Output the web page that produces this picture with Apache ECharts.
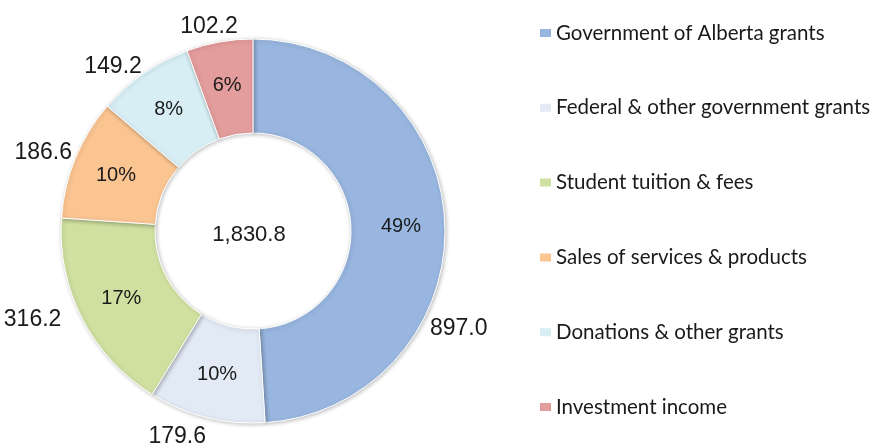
<!DOCTYPE html>
<html>
<head>
<meta charset="utf-8">
<style>
  html, body { margin: 0; padding: 0; background: #fff; }
  #chart { width: 872px; height: 447px; }
</style>
<script src="https://cdn.jsdelivr.net/npm/echarts@6/dist/echarts.min.js"></script>
</head>
<body>
<div id="chart"></div>
<script>
// revenue sources (millions)
const categories = [
  'Government of Alberta grants',
  'Federal & other government grants',
  'Student tuition & fees',
  'Sales of services & products',
  'Donations & other grants',
  'Investment income'
]
const values = [897.0, 179.6, 316.2, 186.6, 149.2, 102.2]
const colors = ['#98b6df', '#e2eaf5', '#cfe0a0', '#fbc592', '#d6eef4', '#e39d9c']

const total = values.reduce((a, b) => a + b, 0)

const chart = echarts.init(document.getElementById('chart'))

const pieData = categories.map((name, i) => ({
  name,
  value: values[i],
  itemStyle: { color: colors[i] }
}))

// 外侧标签微调（参照原图手动摆放的位置）
const labelShift = {
  0: { dx: -25, dy: 104 },
  1: { dx: 2, dy: 10 },
  2: { dx: -12, dy: -4 },
  3: { dx: 6, dy: -2 },
  4: { dx: 4, dy: 2 },
  5: { dx: 20, dy: -5 }
}

const option = {
  animation: false,
  legend: {
    data: categories,
    orient: 'vertical',
    left: 533,
    top: 17,
    itemWidth: 13,
    itemHeight: 10,
    itemGap: 52.8,
    icon: 'rect',
    textStyle: {
      fontFamily: 'Lato',
      fontSize: 20.5,
      lineHeight: 22,
      color: '#1a1a1a',
      padding: [0, 0, 0, -1]
    }
  },
  series: [
    // 环形主体 + 百分比
    {
      type: 'pie',
      center: [253, 231],
      radius: [98, 192],
      silent: true,
      avoidLabelOverlap: false,
      itemStyle: {
        borderColor: '#ffffff',
        borderWidth: 1,
        shadowBlur: 4,
        shadowOffsetX: 1,
        shadowOffsetY: 1,
        shadowColor: 'rgba(0, 0, 0, 0.25)'
      },
      label: {
        show: true,
        position: 'inside',
        fontFamily: 'Liberation Sans',
        fontSize: 20,
        color: '#1a1a1a',
        formatter: p => Math.round(p.percent) + '%'
      },
      labelLine: { show: false },
      emphasis: { disabled: true },
      data: pieData
    },
    // 外侧数值
    {
      type: 'pie',
      center: [253, 231],
      radius: [98, 192],
      silent: true,
      avoidLabelOverlap: false,
      itemStyle: { color: 'rgba(0,0,0,0)', borderWidth: 0 },
      label: {
        show: true,
        position: 'outside',
        fontFamily: 'Liberation Sans',
        fontSize: 23,
        color: '#1a1a1a',
        distanceToLabelLine: 0,
        formatter: p => p.value.toFixed(1)
      },
      labelLine: { show: false, length: 10, length2: 0 },
      labelLayout: p => labelShift[p.dataIndex] || {},
      emphasis: { disabled: true },
      data: categories.map((name, i) => ({ name, value: values[i] }))
    },
    // 中心合计
    {
      type: 'pie',
      center: [249, 235],
      radius: [0, 90],
      silent: true,
      itemStyle: { color: 'rgba(0,0,0,0)' },
      label: {
        show: true,
        position: 'center',
        fontFamily: 'Liberation Sans',
        fontSize: 22,
        color: '#1a1a1a',
        formatter: () => total.toLocaleString('en-US', { minimumFractionDigits: 1, maximumFractionDigits: 1 })
      },
      labelLine: { show: false },
      emphasis: { disabled: true },
      data: [{ name: 'Total', value: total }]
    }
  ]
}

chart.setOption(option)
</script>
</body>
</html>
